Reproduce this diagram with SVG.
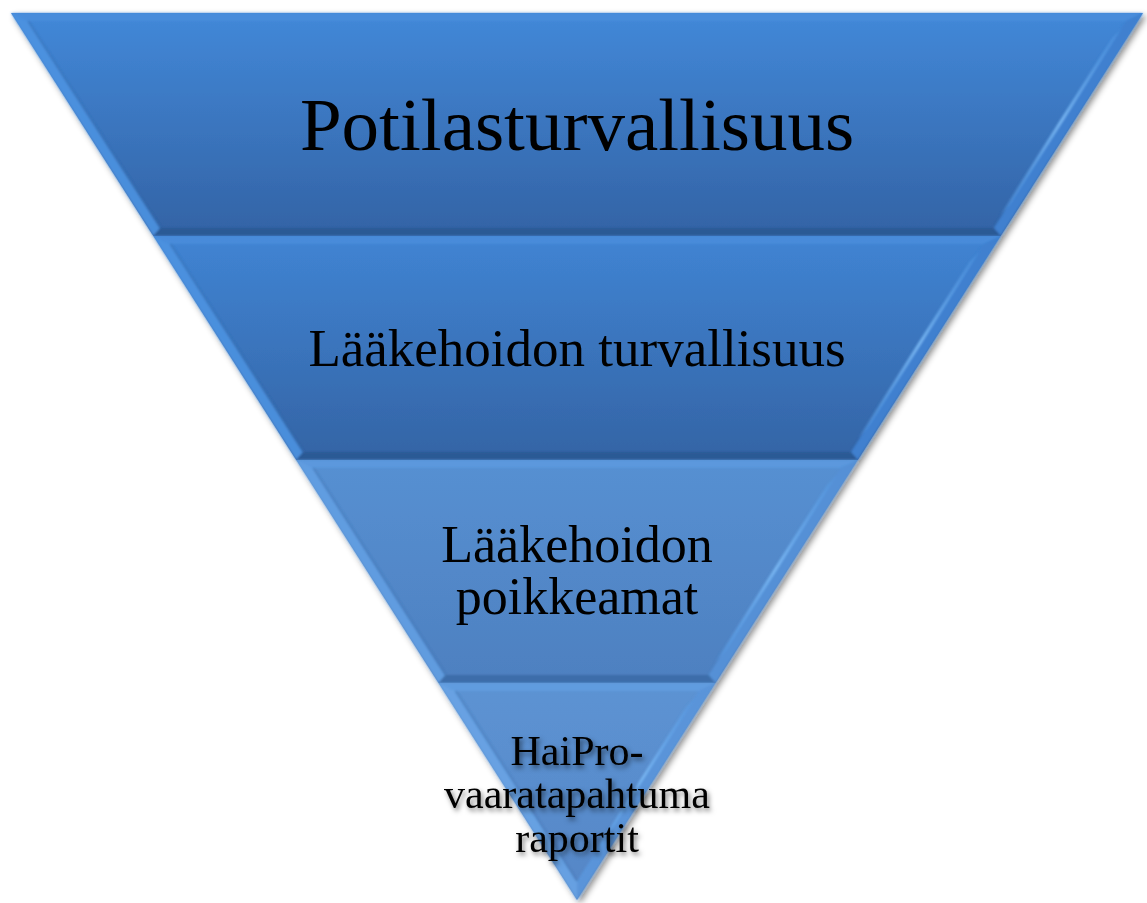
<svg xmlns="http://www.w3.org/2000/svg" width="1147" height="903" viewBox="0 0 1147 903">
<defs>
<linearGradient id="g1" x1="0" y1="0" x2="0" y2="1"><stop offset="0" stop-color="#4288d8"/><stop offset="1" stop-color="#3363a5"/></linearGradient>
<linearGradient id="g2" x1="0" y1="0" x2="0" y2="1"><stop offset="0" stop-color="#4084d3"/><stop offset="1" stop-color="#3464a5"/></linearGradient>
<linearGradient id="g3" x1="0" y1="0" x2="0" y2="1"><stop offset="0" stop-color="#5690d2"/><stop offset="1" stop-color="#4e80c0"/></linearGradient>
<linearGradient id="g4" x1="0" y1="0" x2="0" y2="1"><stop offset="0" stop-color="#5c93d3"/><stop offset="1" stop-color="#5686c6"/></linearGradient>
<linearGradient id="hl" x1="0" y1="0" x2="0" y2="1"><stop offset="0" stop-color="#5aa2ee" stop-opacity="0.3"/><stop offset="0.5" stop-color="#7cbaf5" stop-opacity="0.9"/><stop offset="1" stop-color="#5aa2ee" stop-opacity="0.3"/></linearGradient>
<filter id="sh" x="-5%" y="-5%" width="110%" height="110%"><feDropShadow dx="3" dy="3" stdDeviation="3" flood-color="#000" flood-opacity="0.45"/></filter>
<filter id="tsh" x="-10%" y="-20%" width="120%" height="140%"><feDropShadow dx="2" dy="3" stdDeviation="2.5" flood-color="#000" flood-opacity="0.5"/></filter>
<filter id="bl"><feGaussianBlur stdDeviation="1.2"/></filter>
</defs>
<style>
.lft{fill:#4d92e0;opacity:0.9}
.rgt{fill:#3f80cf}
.bot{fill:#2b5892;opacity:0.85}
.top{fill:#4a8ddc;opacity:0.8}
.crease{fill:none;stroke:#2c5a95;stroke-width:2;opacity:0.35}
text{font-family:"Liberation Serif","Times New Roman",serif;fill:#000;text-anchor:middle}
</style>
<rect width="1147" height="903" fill="#fff"/>
<g filter="url(#sh)">
<g id="band1">
<polygon points="11,13 1143,13 1000.7,236 153.3,236" fill="url(#g1)"/>
<g filter="url(#bl)">
<polygon class="top" points="11,13 1143,13 1125.9,21 28.1,21"/>
<polygon class="lft" points="11,13 28.1,21 160.2,228 153.3,236"/>
<polygon class="rgt" points="1143,13 1125.9,21 993.8,228 1000.7,236"/>
<polyline class="crease" points="28.1,21 160.2,228"/>
<polygon points="1122,28 1010,205 1000,215 1112,38" fill="url(#hl)"/>
<polygon class="bot" points="160.2,228 993.8,228 1000.7,236 153.3,236"/>
</g>
</g>
<g id="band2">
<polygon points="153.3,236 1000.7,236 857.8,460 296.2,460" fill="url(#g2)"/>
<g filter="url(#bl)">
<polygon class="top" points="153.3,236 1000.7,236 983.6,244 170.4,244"/>
<polygon class="lft" points="153.3,236 170.4,244 303.1,452 296.2,460"/>
<polygon class="rgt" points="1000.7,236 983.6,244 850.9,452 857.8,460"/>
<polyline class="crease" points="170.4,244 303.1,452"/>
<polygon points="980,251 868,428 858,438 970,261" fill="url(#hl)"/>
<polygon class="bot" points="303.1,452 850.9,452 857.8,460 296.2,460"/>
</g>
</g>
<g id="band3">
<polygon points="296.2,460 857.8,460 715.5,683 438.5,683" fill="url(#g3)"/>
<g filter="url(#bl)">
<polygon class="top" points="296.2,460 857.8,460 840.7,468 313.3,468" style="fill:#5d9ae0"/>
<polygon class="lft" points="296.2,460 313.3,468 445.4,675 438.5,683" style="fill:#639fe2"/>
<polygon class="rgt" points="857.8,460 840.7,468 708.6,675 715.5,683" style="fill:#5590d6"/>
<polyline class="crease" points="313.3,468 445.4,675"/>
<polygon points="837,475 725,652 715,662 827,485" fill="url(#hl)"/>
<polygon class="bot" points="445.4,675 708.6,675 715.5,683 438.5,683" style="fill:#3a6aa6"/>
</g>
</g>
<g id="band4">
<polygon points="438.5,683 715.5,683 577,900" fill="url(#g4)"/>
<g filter="url(#bl)">
<polygon class="top" points="438.5,683 715.5,683 698.4,691 455.6,691" style="fill:#639fe2"/>
<polygon class="lft" points="438.5,683 455.6,691 577,881 577,900" style="fill:#68a3e4"/>
<polygon class="rgt" points="715.5,683 698.4,691 577,881 577,900" style="fill:#5a94d9"/>
<polyline class="crease" points="455.6,691 577,881"/>
<polygon points="695,698 600,848 592,856 686,707" fill="url(#hl)"/>
</g>
</g>
</g>
<g id="labels">
<text x="577" y="150" font-size="75">Potilasturvallisuus</text>
<text x="577" y="366" font-size="53">Lääkehoidon turvallisuus</text>
<text x="577" y="562" font-size="52">Lääkehoidon</text>
<text x="577" y="614" font-size="52">poikkeamat</text>
<g filter="url(#tsh)">
<text x="577" y="765" font-size="42">HaiPro-</text>
<text x="577" y="808" font-size="42">vaaratapahtuma</text>
<text x="577" y="852" font-size="42">raportit</text>
</g>
</g>
</svg>
